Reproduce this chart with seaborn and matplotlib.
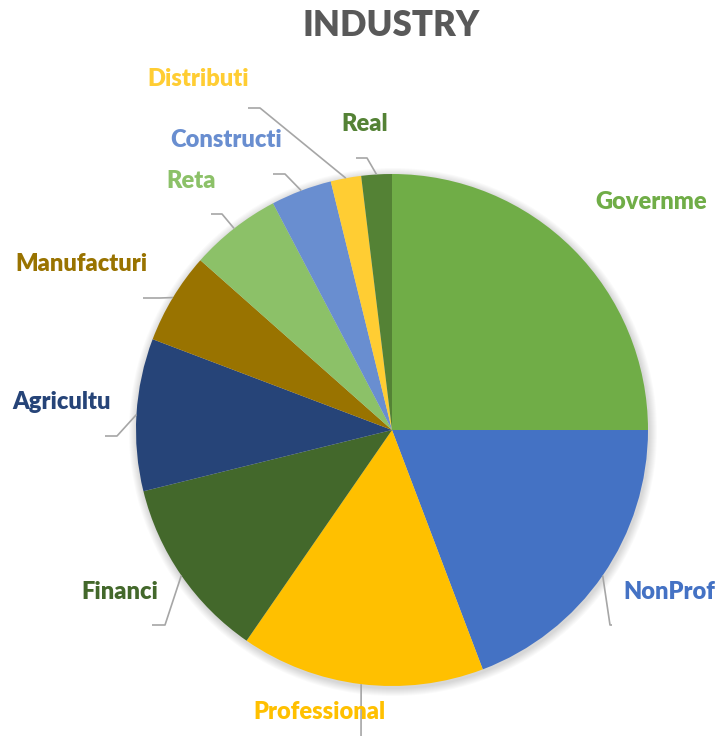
import matplotlib
matplotlib.use("Agg")
import matplotlib.pyplot as plt
import seaborn as sns
import numpy as np
from matplotlib.patches import Circle

# Industry breakdown (number of organisations per sector)
industries = ["Governme", "NonProf", "Professional", "Financi", "Agricultu",
              "Manufacturi", "Reta", "Constructi", "Distributi", "Real"]
counts = [13, 10, 8, 6, 5, 3, 3, 2, 1, 1]
slice_colors = ["#70AD47", "#4472C4", "#FFC000", "#43682B", "#264478",
                "#997300", "#8CC168", "#698ED0", "#FFCD33", "#548235"]
title_text = "INDUSTRY"

sns.set_theme(style="white")
plt.rcParams["font.family"] = ["Lato", "DejaVu Sans"]

W, H = 719, 736
fig = plt.figure(figsize=(W / 100, H / 100), dpi=100)
ax = fig.add_axes([0, 0, 1, 1])


def py(y):
    """Convert a top-down pixel row to the axes' bottom-up coordinate."""
    return H - y


cx, cy, R = 392, py(430), 256

# soft shadow around the pie
for k in range(8, 0, -1):
    ax.add_patch(Circle((cx + 1, cy - 2), R + k, color="black",
                        alpha=0.018, lw=0, zorder=0))

wedges, _ = ax.pie(counts, colors=slice_colors, startangle=90, counterclock=False,
                   center=(cx, cy), radius=R,
                   wedgeprops=dict(linewidth=0))
for w in wedges:
    w.set_zorder(2)

ax.set_xlim(0, W)
ax.set_ylim(0, H)
ax.set_aspect("equal")
ax.axis("off")

# label placement: text centre, then leader elbow and end (pixel rows from the top)
label_pos = {
    "Governme": (651, 202),
    "NonProf": (669, 592),
    "Professional": (319, 712),
    "Financi": (120, 592),
    "Agricultu": (62, 402),
    "Manufacturi": (81, 264),
    "Reta": (191, 181),
    "Constructi": (226, 140),
    "Distributi": (198, 79),
    "Real": (365, 124),
}
leaders = {
    "NonProf": [(610, 625), (612, 625)],
    "Professional": [(361, 750)],
    "Financi": [(165, 625), (152, 625)],
    "Agricultu": [(117, 436), (105, 436)],
    "Manufacturi": [(160, 298), (143, 298)],
    "Reta": [(222, 214), (211, 214)],
    "Constructi": [(285, 174), (273, 174)],
    "Distributi": [(260, 108), (248, 108)],
    "Real": [(367, 158), (356, 158)],
}

total = sum(counts)
cum = np.concatenate([[0], np.cumsum(counts)])
for i, (name, val, col) in enumerate(zip(industries, counts, slice_colors)):
    mid = np.deg2rad(90 - 360 * (cum[i] + val / 2) / total)
    ax_, ay_ = cx + R * np.cos(mid), cy + R * np.sin(mid)
    if name in leaders:
        pts = [(ax_, ay_)] + [(x, py(y)) for x, y in leaders[name]]
        xs, ys = zip(*pts)
        ax.plot(xs, ys, color="#A6A6A6", lw=1.2, zorder=3, solid_capstyle="butt")
    tx, ty = label_pos[name]
    ax.text(tx, py(ty), name, color=col, fontsize=17, fontweight="heavy",
            ha="center", va="center", zorder=4)

ax.text(391, py(25), title_text, color="#595959", fontsize=25, fontweight="heavy",
        ha="center", va="center")

fig.savefig("out.png", dpi=100)
